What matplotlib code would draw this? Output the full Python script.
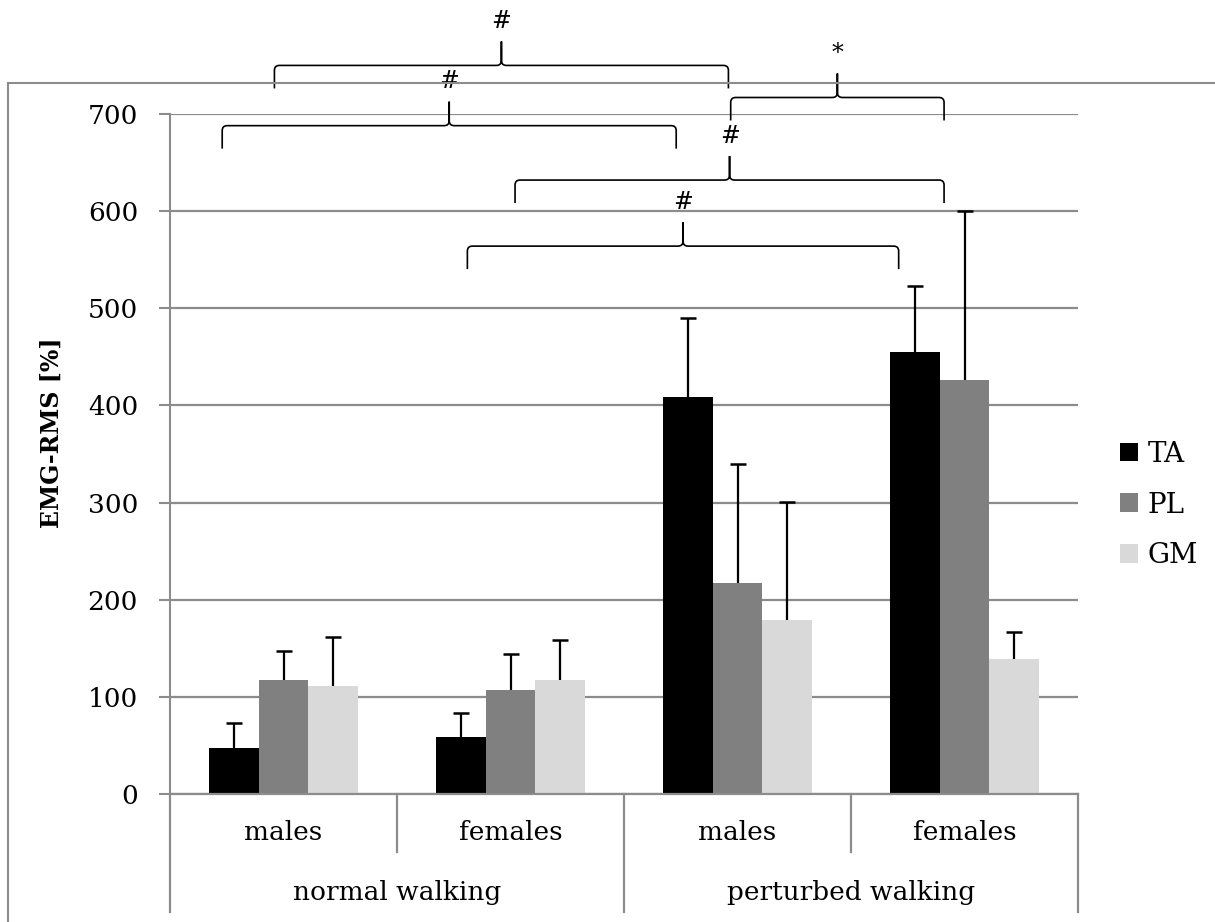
import matplotlib
matplotlib.use("Agg")
import matplotlib.pyplot as plt
from matplotlib.path import Path
from matplotlib.patches import PathPatch, Patch
from matplotlib.lines import Line2D
import matplotlib.transforms as mtransforms
import numpy as np

# ---------------- data ----------------
groups = ["normal walking", "perturbed walking"]
subgroups = ["males", "females", "males", "females"]
series_names = ["TA", "PL", "GM"]
ta_mean = [47, 59, 409, 455]
pl_mean = [117, 107, 217, 426]
gm_mean = [111, 117, 179, 139]
ta_err = [26, 24, 81, 68]
pl_err = [30, 37, 123, 174]
gm_err = [51, 42, 122, 28]
colors = ["#000000", "#808080", "#d9d9d9"]
y_ticks = [0, 100, 200, 300, 400, 500, 600, 700]

# significance braces: (x_start, x_end, y_level, label) in data units
braces = [
    (-0.04, 1.96, 750, "#"),
    (-0.27, 1.73, 688, "#"),
    (1.97, 2.91, 717, "*"),
    (1.02, 2.91, 632, "#"),
    (0.81, 2.71, 564, "#"),
]

W, H = 1215, 922
fig = plt.figure(figsize=(W / 100, H / 100), dpi=100)
plt.rcParams["font.family"] = ["DejaVu Serif"]

# axes placement in pixels
ax_left, ax_right, ax_top, ax_bottom = 170, 1078, 114, 794
ax = fig.add_axes([ax_left / W, 1 - ax_bottom / H, (ax_right - ax_left) / W,
                   (ax_bottom - ax_top) / H])

gray = "#8c8c8c"
x = np.arange(len(subgroups))
bw = 0.22
means = [ta_mean, pl_mean, gm_mean]
errs = [ta_err, pl_err, gm_err]
handles = []
for i, (m, e, c, n) in enumerate(zip(means, errs, colors, series_names)):
    pos = x + (i - 1) * bw
    m = np.asarray(m, float)
    e = np.asarray(e, float)
    ax.bar(pos, m, width=bw, color=c, zorder=3, label=n)
    # upper-only error bars
    ax.vlines(pos, m, m + e, colors="black", linewidth=1.6, zorder=4)
    ax.plot(pos, m + e, linestyle="none", marker="_", markersize=12,
            markeredgewidth=1.8, color="black", zorder=4)
    handles.append(Patch(facecolor=c, label=n))

ax.set_xlim(-0.5, 3.5)
ax.set_ylim(0, 700)
ax.set_yticks(y_ticks)
ax.set_yticklabels([str(t) for t in y_ticks])
ax.tick_params(axis="y", length=8, width=1.5, color=gray, pad=15, labelsize=19)
ax.set_xticks([])
for s in ["top", "right", "bottom"]:
    ax.spines[s].set_visible(False)
ax.spines["left"].set_color(gray)
ax.spines["left"].set_linewidth(1.5)
ax.yaxis.grid(True, color=gray, linewidth=1.6, zorder=0)
ax.set_axisbelow(True)

# category axis (two-level)
def ay(py):
    return (ax_bottom - py) / (ax_bottom - ax_top)

trans = mtransforms.blended_transform_factory(ax.transData, ax.transAxes)
ax.plot([-0.5, 3.5], [0, 0], transform=trans, color=gray, lw=1.6,
        clip_on=False, zorder=5)
for xs, short in [(-0.5, False), (0.5, True), (1.5, False), (2.5, True), (3.5, False)]:
    y_end = ay(852) if short else ay(912)
    ax.plot([xs, xs], [0, y_end], transform=trans, color=gray, lw=1.6,
            clip_on=False)
for xi, lab in zip(x, subgroups):
    ax.text(xi, ay(832), lab, transform=trans, ha="center", va="center",
            fontsize=19)
for gi, lab in enumerate(groups):
    ax.text(gi * 2 + 0.5, ay(892), lab, transform=trans, ha="center",
            va="center", fontsize=19)

# y label
fig.text(52 / W, 1 - 433 / H, "EMG-RMS [%]", rotation=90, ha="center",
         va="center", fontsize=17, fontweight="bold")

# legend
leg = fig.legend(handles=handles, loc="center left",
                 bbox_to_anchor=(1120 / W, 1 - 505 / H), frameon=False,
                 fontsize=20, handlelength=0.65, handleheight=0.65,
                 handletextpad=0.35, labelspacing=0.85, borderpad=0,
                 borderaxespad=0)

# braces
px_x = (ax_right - ax_left) / 4.0   # pixels per x unit
px_y = (ax_bottom - ax_top) / 700.0  # pixels per y unit
def draw_brace(x0, x1, y, label):
    depth = 23 / px_y
    tip = 24 / px_y
    rx = 5 / px_x
    ry = 5 / px_y
    xm = (x0 + x1) / 2
    verts = [(x0, y - depth), (x0, y - ry), (x0, y), (x0 + rx, y),
             (xm - rx, y), (xm, y), (xm, y + ry), (xm, y + tip),
             (xm, y + ry), (xm, y), (xm + rx, y), (x1 - rx, y),
             (x1, y), (x1, y - ry), (x1, y - depth)]
    codes = [Path.MOVETO, Path.LINETO, Path.CURVE3, Path.CURVE3,
             Path.LINETO, Path.CURVE3, Path.CURVE3, Path.LINETO,
             Path.LINETO, Path.CURVE3, Path.CURVE3, Path.LINETO,
             Path.CURVE3, Path.CURVE3, Path.LINETO]
    p = PathPatch(Path(verts, codes), fill=False, edgecolor="black", lw=1.2,
                  clip_on=False, zorder=6)
    ax.add_patch(p)
    ax.text(xm, y + tip + 20 / px_y, label, ha="center", va="center",
            fontsize=17, clip_on=False, zorder=6)

for b in braces:
    draw_brace(*b)

# outer chart border (clipped by image edge)
fig.add_artist(Line2D([8 / W, 1.0], [1 - 83 / H, 1 - 83 / H],
                      transform=fig.transFigure, color=gray, lw=1.5))
fig.add_artist(Line2D([8 / W, 8 / W], [1 - 83 / H, 0.0],
                      transform=fig.transFigure, color=gray, lw=1.5))

fig.savefig("out.png", dpi=100)
